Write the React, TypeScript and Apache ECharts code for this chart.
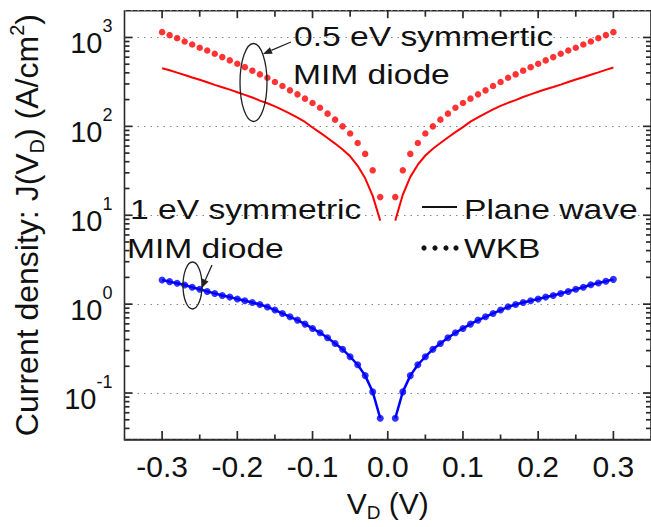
import React, { useEffect, useRef } from "react";
import * as echarts from "echarts";

// ---- data ----
const voltage = [
  -0.3, -0.29, -0.28, -0.27, -0.26, -0.25, -0.24, -0.23, -0.22, -0.21,
  -0.2, -0.19, -0.18, -0.17, -0.16, -0.15, -0.14, -0.13, -0.12, -0.11,
  -0.1, -0.09, -0.08, -0.07, -0.06, -0.05, -0.04, -0.03, -0.02, -0.01,
  0.01, 0.02, 0.03, 0.04, 0.05, 0.06, 0.07, 0.08, 0.09, 0.1,
  0.11, 0.12, 0.13, 0.14, 0.15, 0.16, 0.17, 0.18, 0.19, 0.2,
  0.21, 0.22, 0.23, 0.24, 0.25, 0.26, 0.27, 0.28, 0.29, 0.3,
];

// 0.5 eV symmetric MIM diode, plane wave (red solid)
const pw05 = [
  450, 428, 402, 378, 355, 334, 313, 293, 275, 259,
  242, 226, 211, 195, 182, 168, 153, 139, 125, 112,
  97, 85, 74, 64, 55, 46, 36, 26, 16.5, 8.7,
  8.7, 17, 27, 37, 47, 56, 65, 75, 86, 98,
  113, 126, 140, 155, 170, 184, 197, 214, 229, 245,
  261, 277, 295, 315, 336, 357, 380, 405, 432, 460,
];

// 0.5 eV symmetric MIM diode, WKB (red dots)
const wkb05 = [
  1148, 1062, 982, 902, 834, 766, 714, 656, 601, 552,
  506, 463, 423, 384, 352, 315, 284, 254, 229, 205,
  183, 162, 139, 119, 100, 83, 65, 49, 32, 16,
  16, 32, 49, 65, 83, 100, 119, 139, 162, 183,
  205, 229, 254, 284, 315, 352, 384, 423, 463, 506,
  552, 601, 656, 714, 766, 834, 902, 982, 1062, 1148,
];

// 1 eV symmetric MIM diode, plane wave (blue solid)
const pw1 = [
  1.87, 1.79, 1.72, 1.64, 1.55, 1.47, 1.39, 1.32, 1.25, 1.2,
  1.14, 1.09, 1.045, 0.99, 0.93, 0.857, 0.785, 0.72, 0.661, 0.596,
  0.533, 0.476, 0.418, 0.361, 0.31, 0.256, 0.208, 0.157, 0.103, 0.052,
  0.052, 0.103, 0.157, 0.208, 0.256, 0.31, 0.361, 0.418, 0.476, 0.533,
  0.596, 0.661, 0.72, 0.785, 0.857, 0.933, 0.99, 1.045, 1.09, 1.14,
  1.2, 1.25, 1.32, 1.39, 1.47, 1.55, 1.65, 1.73, 1.81, 1.9,
];

// 1 eV symmetric MIM diode, WKB (blue dots)
const wkb1 = [
  1.87, 1.79, 1.72, 1.64, 1.55, 1.47, 1.39, 1.32, 1.25, 1.2,
  1.14, 1.09, 1.045, 0.99, 0.93, 0.857, 0.785, 0.72, 0.661, 0.596,
  0.533, 0.476, 0.418, 0.361, 0.31, 0.256, 0.208, 0.157, 0.103, 0.052,
  0.052, 0.103, 0.157, 0.208, 0.256, 0.31, 0.361, 0.418, 0.476, 0.533,
  0.596, 0.661, 0.72, 0.785, 0.857, 0.933, 0.99, 1.045, 1.09, 1.14,
  1.2, 1.25, 1.32, 1.39, 1.47, 1.55, 1.65, 1.73, 1.81, 1.9,
];

const xTicks = [-0.3, -0.2, -0.1, 0, 0.1, 0.2, 0.3];
const xMinorTicks = [-0.25, -0.15, -0.05, 0.05, 0.15, 0.25];
const yMajorTicks = [0.1, 1, 10, 100, 1000];
const yMinorTicks = [
  0.04, 0.05, 0.06, 0.07, 0.08, 0.09,
  0.2, 0.3, 0.4, 0.5, 0.6, 0.7, 0.8, 0.9,
  2, 3, 4, 5, 6, 7, 8, 9,
  20, 30, 40, 50, 60, 70, 80, 90,
  200, 300, 400, 500, 600, 700, 800, 900,
];
const X_MIN = -0.35;
const X_MAX = 0.35;
const Y_MIN = 0.03;
const Y_MAX = 2000;

const FONT = '"Liberation Sans", Arial, sans-serif';
const AXIS_COLOR = "#2a2a2a";

function pairs(ys: number[]) {
  const half = voltage.length / 2;
  const out: any[] = [];
  for (let i = 0; i < half; i++) out.push([voltage[i], ys[i]]);
  out.push([0, "-"]);
  for (let i = half; i < voltage.length; i++) out.push([voltage[i], ys[i]]);
  return out;
}
function points(ys: number[]) {
  return voltage.map((v, i) => [v, ys[i]]);
}

export default function App() {
  const ref = useRef<HTMLDivElement>(null);
  useEffect(() => {
    if (!ref.current) return;
    const chart = echarts.init(ref.current, undefined, { renderer: "svg" });
    const axisLineStyle = { color: AXIS_COLOR, width: 1.6 };
    const txt = (text: string, x: number, y: number) => ({
      type: "text", x, y, scaleX: 1.2, z: 100,
      style: { text, fontFamily: FONT, fontSize: 28, fill: "#111", align: "left", verticalAlign: "middle" },
    });
    const annotations: any[] = [
      txt("0.5 eV symmertic", 294, 36),
      txt("MIM diode", 293, 74),
      txt("1 eV symmetric", 130, 209),
      txt("MIM diode", 127, 248),
      { type: "line", z: 100, shape: { x1: 422, y1: 207, x2: 457, y2: 207 }, style: { stroke: "#111", lineWidth: 2 } },
      txt("Plane wave", 464, 209),
      { type: "circle", z: 100, shape: { cx: 424, cy: 248, r: 2.6 }, style: { fill: "#111" } },
      { type: "circle", z: 100, shape: { cx: 435, cy: 248, r: 2.6 }, style: { fill: "#111" } },
      { type: "circle", z: 100, shape: { cx: 446, cy: 248, r: 2.6 }, style: { fill: "#111" } },
      { type: "circle", z: 100, shape: { cx: 456, cy: 248, r: 2.6 }, style: { fill: "#111" } },
      txt("WKB", 464, 248),
      { type: "ellipse", z: 100, shape: { cx: 253.5, cy: 82.5, rx: 13.5, ry: 39 }, style: { fill: "transparent", stroke: "#222", lineWidth: 1.3 } },
      { type: "line", z: 100, shape: { x1: 291, y1: 42, x2: 271.3, y2: 50.4 }, style: { stroke: "#222", lineWidth: 1.3 } },
      { type: "polygon", z: 100, shape: { points: [[263, 54], [272.7, 53.7], [269.9, 47.2]] }, style: { fill: "#222" } },
      { type: "ellipse", z: 100, shape: { cx: 192.5, cy: 285.5, rx: 9.5, ry: 23.5 }, style: { fill: "transparent", stroke: "#222", lineWidth: 1.3 } },
      { type: "line", z: 100, shape: { x1: 212, y1: 265, x2: 205.3, y2: 280 }, style: { stroke: "#222", lineWidth: 1.3 } },
      { type: "polygon", z: 100, shape: { points: [[201.7, 288.3], [208.5, 281.4], [202.1, 278.6]] }, style: { fill: "#222" } },
    ];
    const option: any = {
      animation: false,
      backgroundColor: "#fff",
      grid: {
        left: 124.5, right: 0, top: 10.7, bottom: 87.5,
        containLabel: false, outerBoundsMode: "none",
        show: true, borderColor: AXIS_COLOR, borderWidth: 1.6, backgroundColor: "transparent",
      },
      xAxis: [
        {
          type: "value",
          position: "bottom",
          min: X_MIN,
          max: X_MAX,
          axisLine: { show: true, onZero: false, lineStyle: axisLineStyle },
          axisTick: { show: false },
          axisLabel: {
            customValues: xTicks,
            formatter: (v: number) => v.toFixed(1),
            fontFamily: FONT,
            fontSize: 30,
            color: "#111",
            margin: 12,
          },
          splitLine: { show: false },
          name: "{a|V}{sub|D}{a| (V)}",
          nameLocation: "middle",
          nameGap: 46,
          nameTextStyle: {
            rich: {
              a: { fontFamily: FONT, fontSize: 30, color: "#111", lineHeight: 36, verticalAlign: "middle" },
              sub: { fontFamily: FONT, fontSize: 19, color: "#111", lineHeight: 19, verticalAlign: "bottom" },
            },
          },
        },
      ],
      yAxis: [
        {
          type: "log",
          logBase: 10,
          position: "left",
          min: Y_MIN,
          max: Y_MAX,
          axisLine: { show: false, onZero: false },
          axisTick: { show: false },
          axisLabel: {
            margin: 12,
            formatter: (v: number) => {
              const e = Math.log10(v);
              const r = Math.round(e);
              if (Math.abs(e - r) > 1e-6) return "";
              return `{b|10}{s|${r}}`;
            },
            rich: {
              b: { fontFamily: FONT, fontSize: 29, color: "#111", lineHeight: 40, verticalAlign: "bottom" },
              s: { fontFamily: FONT, fontSize: 18, color: "#111", lineHeight: 18, verticalAlign: "top" },
            },
          },
          splitLine: { show: true, lineStyle: { color: "#888", width: 1, type: [1.5, 5] } },
          name: "{a|Current density: J(V}{sub|D}{a|) (A/cm}{sup|2}{a|)}",
          nameLocation: "middle",
          nameGap: 78,
          nameRotate: 90,
          nameTextStyle: {
            rich: {
              a: { fontFamily: FONT, fontSize: 32, color: "#111", lineHeight: 40, verticalAlign: "middle" },
              sub: { fontFamily: FONT, fontSize: 20, color: "#111", lineHeight: 20, verticalAlign: "bottom" },
              sup: { fontFamily: FONT, fontSize: 20, color: "#111", lineHeight: 20, verticalAlign: "top" },
            },
          },
        },
      ],
      series: [
        {
          name: "Plane wave (0.5 eV)",
          type: "line",
          data: pairs(pw05),
          showSymbol: false,
          connectNulls: false,
          lineStyle: { color: "#ff0000", width: 2 },
          z: 3,
        },
        {
          name: "WKB (0.5 eV)",
          type: "scatter",
          data: points(wkb05),
          symbol: "circle",
          symbolSize: 6.5,
          itemStyle: { color: "#ff0000" },
          z: 4,
        },
        {
          name: "Plane wave (1 eV)",
          type: "line",
          data: pairs(pw1),
          showSymbol: false,
          connectNulls: false,
          lineStyle: { color: "#0000ff", width: 2.5 },
          z: 3,
        },
        {
          name: "WKB (1 eV)",
          type: "scatter",
          data: points(wkb1),
          symbol: "circle",
          symbolSize: 7,
          itemStyle: { color: "#0000ff" },
          z: 4,
        },
      ],
    };
    chart.setOption(option);

    // frame ticks (inside, on all four sides), placed through the chart's own scales
    const toPx = (x: number, y: number) => chart.convertToPixel({ gridIndex: 0 }, [x, y]) as number[];
    const st = { stroke: AXIS_COLOR, lineWidth: 1.7 };
    const ticks: any[] = [];
    const addY = (v: number, len: number) => {
      const l = toPx(X_MIN, v);
      const r = toPx(X_MAX, v);
      ticks.push({ type: "line", z: 90, shape: { x1: l[0], y1: l[1], x2: l[0] + len, y2: l[1] }, style: st });
      ticks.push({ type: "line", z: 90, shape: { x1: r[0], y1: r[1], x2: r[0] - len, y2: r[1] }, style: st });
    };
    const addX = (v: number, lenTop: number, lenBottom: number) => {
      const t = toPx(v, Y_MAX);
      const b = toPx(v, Y_MIN);
      ticks.push({ type: "line", z: 90, shape: { x1: t[0], y1: t[1], x2: t[0], y2: t[1] + lenTop }, style: st });
      ticks.push({ type: "line", z: 90, shape: { x1: b[0], y1: b[1], x2: b[0], y2: b[1] - lenBottom }, style: st });
    };
    yMajorTicks.forEach((v) => addY(v, 8));
    yMinorTicks.forEach((v) => addY(v, 5));
    xTicks.forEach((v) => addX(v, 7.5, 8.5));
    xMinorTicks.forEach((v) => addX(v, 6, 5));
    chart.setOption({ graphic: ticks.concat(annotations) });

    return () => chart.dispose();
  }, []);
  return (
    <div
      ref={ref}
      style={{ position: "fixed", left: 0, top: 0, width: 651, height: 527, background: "#fff" }}
    />
  );
}
